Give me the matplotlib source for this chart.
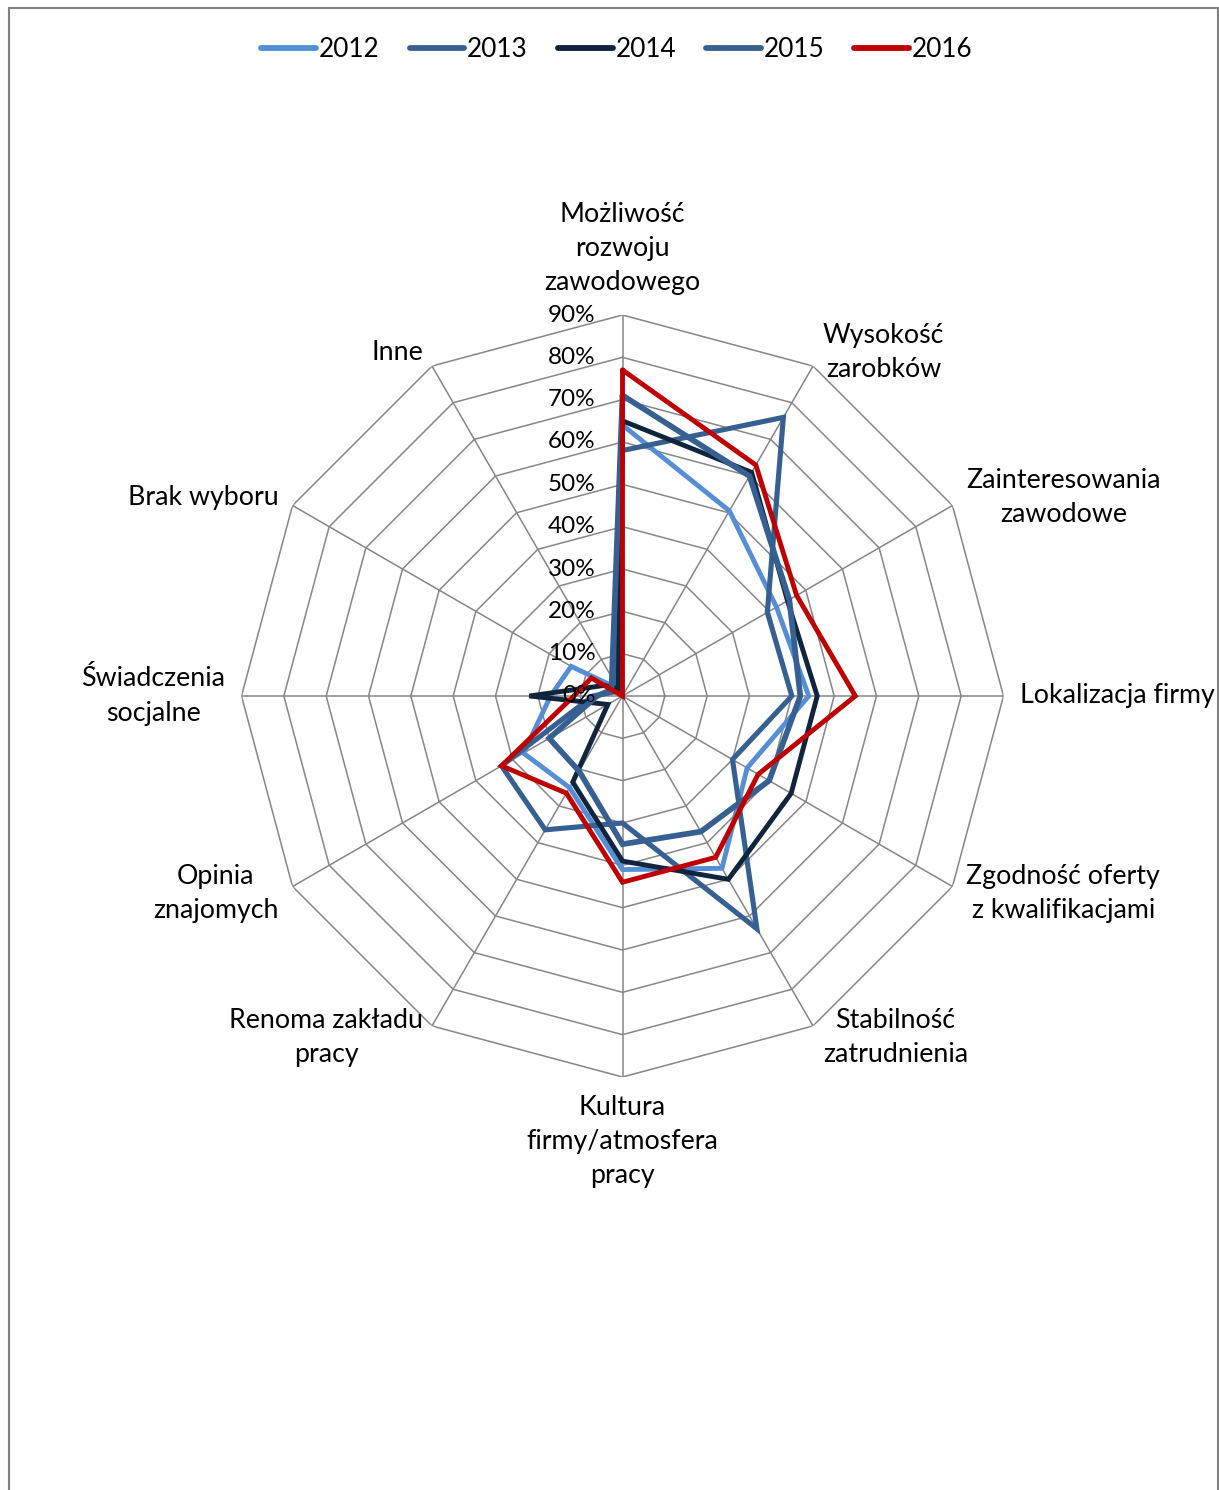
import numpy as np
import matplotlib.pyplot as plt
from matplotlib.patches import Rectangle

plt.rcParams['font.family'] = ['Lato', 'DejaVu Sans']

categories = ['Możliwość\nrozwoju\nzawodowego', 'Wysokość\nzarobków', 'Zainteresowania\nzawodowe',
              'Lokalizacja firmy', 'Zgodność oferty\nz kwalifikacjami', 'Stabilność\nzatrudnienia',
              'Kultura\nfirmy/atmosfera\npracy', 'Renoma zakładu\npracy', 'Opinia\nznajomych',
              'Świadczenia\nsocjalne', 'Brak wyboru', 'Inne']

years = ['2012', '2013', '2014', '2015', '2016']
v2012 = [64, 50.5, 42, 44, 34, 47, 41, 25, 27, 17, 14, 2]
v2013 = [58, 76, 39.5, 40, 30, 63.5, 30, 36.5, 33, 7, 2, 4]
v2014 = [65, 61, 45, 46, 46, 50, 39, 23.5, 4, 22, 5, 2]
v2015 = [71, 60, 45.5, 42, 40, 37, 35, 20.5, 20, 6, 3, 5]
v2016 = [77, 63, 47.5, 55, 37, 44, 44, 26.5, 33, 11.5, 8.5, 0]
series = [v2012, v2013, v2014, v2015, v2016]
colors = ['#558ED5', '#376092', '#10243E', '#376092', '#C00000']
widths = [3.5, 3.7, 3.5, 4.1, 3.5]

ticks = [0, 10, 20, 30, 40, 50, 60, 70, 80, 90]

W, H = 1219, 1490
fig = plt.figure(figsize=(W / 100, H / 100), dpi=100)

# polar axes placed so that center ~ (622, 696) px, radius 381 px
cx, cy, R = 622.5, 696, 381
ax = fig.add_axes([(cx - R) / W, 1 - (cy + R) / H, 2 * R / W, 2 * R / H], projection='polar')
ax.set_theta_zero_location('N')
ax.set_theta_direction(-1)
ax.set_ylim(0, 90)
ax.grid(False)
ax.set_xticks([])
ax.set_yticks([])
ax.spines['polar'].set_visible(False)
ax.patch.set_alpha(0)

n = len(categories)
ang = np.arange(n) * 2 * np.pi / n
ang_c = np.append(ang, ang[0])

# polygon grid
for t in ticks[1:]:
    ax.plot(ang_c, [t] * (n + 1), color='#868686', lw=1.1, zorder=1)
for a in ang:
    ax.plot([a, a], [0, 90], color='#868686', lw=1.1, zorder=1)

# data
for y, vals, c, lw in zip(years, series, colors, widths):
    ax.plot(ang_c, vals + vals[:1], color=c, lw=lw, label=y, zorder=3,
            solid_joinstyle='miter', solid_capstyle='round')

# radial labels
for t in ticks:
    ax.annotate(f'{t}%', xy=(0, t), xytext=(-27, 0), textcoords='offset pixels',
                ha='right', va='center', fontsize=17.5, color='black', zorder=4)

# category labels
offs = [(0, 20, 'center', 'bottom'), (10, 14, 'left', 'center'), (14, 8, 'left', 'center'),
        (17, 0, 'left', 'center'), (14, -7, 'left', 'center'), (10, -12, 'left', 'center'),
        (0, -18, 'center', 'top'), (-9, -12, 'right', 'center'), (-14, -7, 'right', 'center'),
        (-16, 0, 'right', 'center'), (-14, 8, 'right', 'center'), (-9, 14, 'right', 'center')]
for a, lab, (dx, dy, ha, va) in zip(ang, categories, offs):
    ax.annotate(lab, xy=(a, 90), xytext=(dx, dy), textcoords='offset pixels',
                ha=ha, va=va, multialignment='center', fontsize=19.3,
                linespacing=1.45, annotation_clip=False)

leg = fig.legend(loc='upper center', bbox_to_anchor=(0.506, 0.991), ncol=5, frameon=False,
                 fontsize=18.8, handlelength=2.1, handletextpad=0.1, columnspacing=1.15)
for h in leg.get_lines():
    h.set_linewidth(4.2)
    h.set_solid_capstyle('round')

fig.patches.append(Rectangle((9 / W, -0.01), (1218 - 9) / W, 1.01 - 8 / H, transform=fig.transFigure,
                             fill=False, edgecolor='#808080', lw=1.5))

fig.savefig('out.png', dpi=100)
